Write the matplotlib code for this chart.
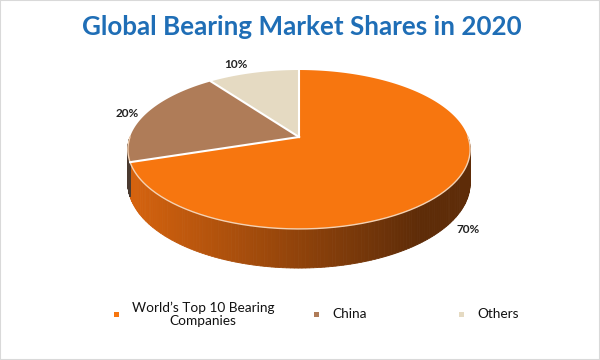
import numpy as np
import matplotlib
matplotlib.use("Agg")
import matplotlib.pyplot as plt
from matplotlib.patches import Polygon, Rectangle
from matplotlib.colors import to_rgb

# data
labels = ["World\u2019s Top 10 Bearing\nCompanies", "China", "Others"]
shares = [70, 20, 10]
colors = ["#F7760F", "#AF7C58", "#E5DAC2"]
title = "Global Bearing Market Shares in 2020"

# pie geometry (pixels) with a bit of perspective
cx, cy = 299, 137
a, b, k = 169, 77.5, 0.157
depth = 33

def proj(t, r=1.0, dz=0.0):
    X = r * np.cos(t)
    Y = r * np.sin(t)
    d = 1 + k * Y
    return cx + a * X / d, cy - b * Y / d + dz / d

def lerp_color(c1, c2, f):
    c1, c2 = np.array(to_rgb(c1)), np.array(to_rgb(c2))
    return tuple(c1 + (c2 - c1) * f)

fig = plt.figure(figsize=(6, 3.6), dpi=100)
ax = fig.add_axes([0, 0, 1, 1])
ax.set_xlim(0, 600)
ax.set_ylim(360, 0)
ax.axis("off")

fracs = np.array(shares) / sum(shares)
cum = np.concatenate([[0], np.cumsum(fracs)])
starts = 90 - cum[:-1] * 360
ends = 90 - cum[1:] * 360

# side walls (front half only)
side_dark = ["#5E2C08", "#4a3a30", "#8a8070"]
for i in range(len(shares)):
    lo = max(ends[i], -180)
    hi = min(starts[i], 0)
    if lo >= hi:
        continue
    ts = np.radians(np.linspace(lo, hi, 150))
    for j in range(len(ts) - 1):
        x0, y0 = proj(ts[j])
        x1, y1 = proj(ts[j + 1])
        x2, y2 = proj(ts[j + 1], dz=depth)
        x3, y3 = proj(ts[j], dz=depth)
        if i == 0:
            u = np.clip(((x0 + x1) / 2 - 135) / 285, 0, 1)
            col = lerp_color("#D4620E", side_dark[0], u)
        else:
            col = side_dark[i]
        ax.add_patch(Polygon([(x0, y0), (x1, y1), (x2, y2), (x3, y3)],
                             closed=True, facecolor=col, edgecolor=col, lw=0.6))

# top surfaces
for i in range(len(shares)):
    ts = np.radians(np.linspace(starts[i], ends[i], 200))
    xs, ys = proj(ts)
    pts = [(cx, cy)] + list(zip(xs, ys))
    ax.add_patch(Polygon(pts, closed=True, facecolor=colors[i],
                         edgecolor="none", zorder=3))

# outer highlight on front rim
ts = np.radians(np.linspace(-180, 0, 200))
xs, ys = proj(ts)
ax.plot(xs, ys, color="#F4D2B4", lw=1.0, zorder=4)

# white separators
for ang in starts:
    x, y = proj(np.radians(ang))
    ax.plot([cx, x], [cy, y], color="white", lw=1.5, zorder=5)

# percentage labels
lab_r = [(1.236, 2.04), (1.07, 1.0), (1.21, 0.99)]
for i in range(len(shares)):
    mid = np.radians((starts[i] + ends[i]) / 2)
    rx, ry = lab_r[i]
    x = cx + a * rx * np.cos(mid)
    y = cy - b * ry * np.sin(mid)
    ax.text(x, y, f"{shares[i]}%", ha="center", va="center", zorder=6,
            fontsize=8.5, fontweight="bold", family="Lato", color="#222222")

# title
ax.text(302, 27, title, ha="center", va="center", fontsize=18.7,
        fontweight="bold", family="Lato", color="#1F6EB6")

# legend
leg_x = [116, 316, 461]
for i in range(len(labels)):
    ax.add_patch(Rectangle((leg_x[i] - 2.5, 311.5), 5, 5, facecolor=colors[i],
                           edgecolor="none"))
    t = ax.text(leg_x[i] + 16, 314, labels[i], ha="left", va="center",
                fontsize=9.8, family="Lato", color="#111111",
                linespacing=1.1)
    t.set_multialignment("center")

# thin frame
fig.patches.append(Rectangle((0, 0), 1, 1, transform=fig.transFigure,
                             fill=False, edgecolor="#D9D9D9", lw=1.5))

fig.savefig("out.png", dpi=100)
